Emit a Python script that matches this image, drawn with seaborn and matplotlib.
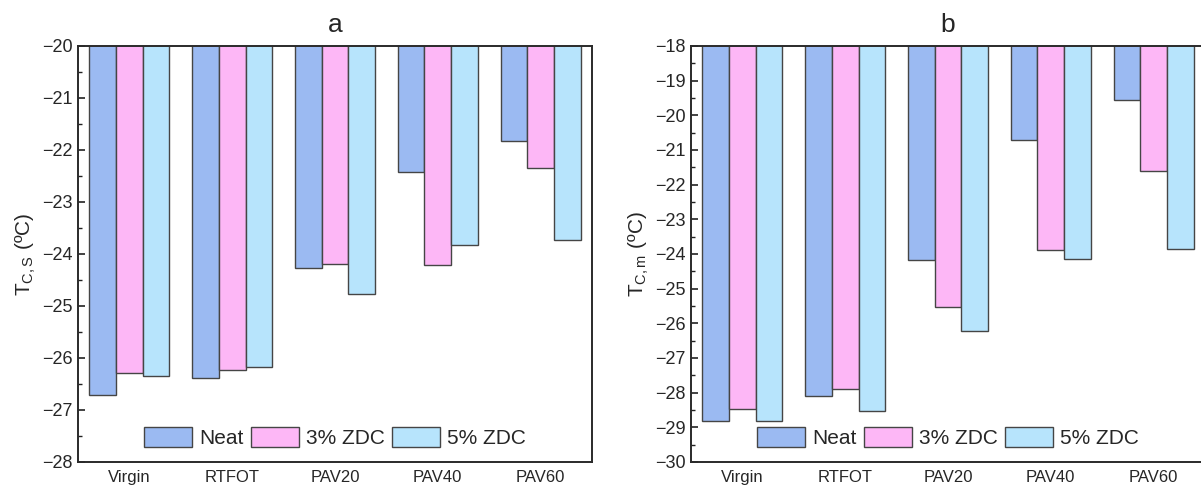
import numpy as np
import pandas as pd
import matplotlib
matplotlib.use("Agg")
import matplotlib.pyplot as plt
from matplotlib.ticker import MultipleLocator, AutoMinorLocator
import seaborn as sns

# Ageing states and binder types
categories = ["Virgin", "RTFOT", "PAV20", "PAV40", "PAV60"]
binders = ["Neat", "3% ZDC", "5% ZDC"]

# T_C,S (°C)
tcs_neat = [-26.71, -26.39, -24.27, -22.42, -21.82]
tcs_3zdc = [-26.28, -26.24, -24.20, -24.22, -22.35]
tcs_5zdc = [-26.34, -26.18, -24.77, -23.82, -23.74]

# T_C,m (°C)
tcm_neat = [-28.83, -28.09, -24.18, -20.71, -19.55]
tcm_3zdc = [-28.48, -27.88, -25.54, -23.88, -21.61]
tcm_5zdc = [-28.81, -28.52, -26.22, -24.14, -23.86]

colors = ["#9bbaf2", "#fdb7f6", "#b7e4fc"]

sns.set_theme(style="white")
plt.rcParams["font.family"] = ["Liberation Sans", "DejaVu Sans"]
plt.rcParams["mathtext.fontset"] = "custom"
plt.rcParams["mathtext.rm"] = "Liberation Sans"
plt.rcParams["mathtext.it"] = "Liberation Sans:italic"
plt.rcParams["axes.unicode_minus"] = True


def long_form(neat, z3, z5):
    rows = []
    for b, vals in zip(binders, [neat, z3, z5]):
        for c, v in zip(categories, vals):
            rows.append({"Sample": c, "Binder": b, "T": v})
    return pd.DataFrame(rows)


fig = plt.figure(figsize=(12.01, 4.88), dpi=100)
W, H = 1201, 488
ax_a = fig.add_axes([78 / W, 26 / H, 514 / W, 416 / H])
ax_b = fig.add_axes([691 / W, 26 / H, 514 / W, 416 / H])

panels = [
    (ax_a, long_form(tcs_neat, tcs_3zdc, tcs_5zdc), "a", (-28, -20), r"T$_{\mathrm{C,S}}$ (ºC)"),
    (ax_b, long_form(tcm_neat, tcm_3zdc, tcm_5zdc), "b", (-30, -18), r"T$_{\mathrm{C,m}}$ (ºC)"),
]

for ax, df, title, ylim, ylabel in panels:
    sns.barplot(data=df, x="Sample", y="T", hue="Binder", order=categories,
                hue_order=binders, palette=colors, width=0.78, ax=ax,
                edgecolor="#454545", linewidth=1.0, saturation=1, errorbar=None)
    ax.set_ylim(*ylim)
    ax.set_xlim(-0.5, 4.5)
    ax.yaxis.set_major_locator(MultipleLocator(1))
    ax.yaxis.set_minor_locator(AutoMinorLocator(2))
    ax.tick_params(axis="y", which="major", direction="in", length=5, width=1.2,
                   labelsize=13, pad=4, color="#222222", left=True)
    ax.tick_params(axis="y", which="minor", direction="in", length=3, width=1.0,
                   color="#222222", left=True)
    ax.tick_params(axis="x", which="both", length=0, labelsize=12, pad=6)
    for s in ax.spines.values():
        s.set_visible(True)
        s.set_linewidth(1.4)
        s.set_color("#2a2a2a")
    ax.set_xlabel("")
    ax.set_ylabel(ylabel, fontsize=15, labelpad=3)
    ax.set_title(title, fontsize=19, pad=10)
    ax.legend(loc="lower center", ncol=3, frameon=False, fontsize=15,
              handlelength=2.3, handleheight=1.1, handletextpad=0.35,
              columnspacing=0.35, borderaxespad=0.25)

fig.savefig("out.png", dpi=100)
